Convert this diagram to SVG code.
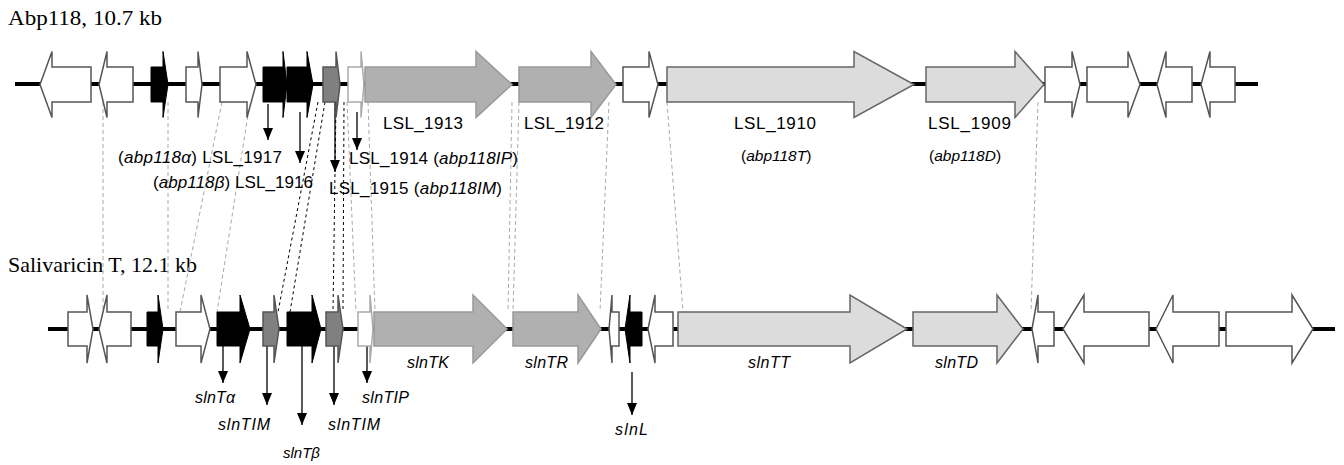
<svg xmlns="http://www.w3.org/2000/svg" width="1344" height="465" viewBox="0 0 1344 465">
<style>
.bb{stroke:#000;stroke-width:4;fill:none}
.w{fill:#fff;stroke:#555;stroke-width:1.5;stroke-linejoin:miter}
.wl{fill:#fff;stroke:#aaa;stroke-width:1.5}
.k{fill:#000;stroke:#000;stroke-width:1}
.dg{fill:#808080;stroke:#555;stroke-width:1.5}
.g{fill:#b0b0b0;stroke:#999;stroke-width:1.5}
.lg{fill:#dcdcdc;stroke:#666;stroke-width:1.5}
.gd{stroke:#aaa;stroke-width:1;stroke-dasharray:4 3;fill:none}
.kd{stroke:#000;stroke-width:1;stroke-dasharray:3 3;fill:none}
.ar{stroke:#000;stroke-width:1.3;fill:none}
.title{font-family:"Liberation Serif",serif;font-size:21px;fill:#000}
.lab{font-family:"Liberation Sans",Arial,sans-serif;font-size:17px;fill:#000}
.it{font-style:italic}
.sl{font-family:"Liberation Sans",Arial,sans-serif;font-size:16px;font-style:italic;fill:#000}
</style>
<defs>
<marker id="ah" viewBox="0 0 12 10" refX="12" refY="5" markerWidth="12" markerHeight="10" markerUnits="userSpaceOnUse" orient="auto"><path d="M0,0 L12,5 L0,10 z" fill="#000"/></marker>
</defs>
<g id="titles">
<text class="title" x="8" y="25" textLength="154" lengthAdjust="spacingAndGlyphs">Abp118, 10.7 kb</text>
<text class="title" x="8" y="272" textLength="189" lengthAdjust="spacingAndGlyphs">Salivaricin T, 12.1 kb</text>
</g>
<g id="connectors">
<line class="gd" x1="103" y1="102" x2="103" y2="312"/>
<line class="gd" x1="168" y1="102" x2="168" y2="312"/>
<line class="gd" x1="222" y1="102" x2="180" y2="312"/>
<line class="gd" x1="250" y1="102" x2="217" y2="312"/>
<line class="gd" x1="347" y1="102" x2="356" y2="312"/>
<line class="gd" x1="368" y1="102" x2="375" y2="312"/>
<line class="gd" x1="512" y1="102" x2="508" y2="312"/>
<line class="gd" x1="519" y1="102" x2="513" y2="312"/>
<line class="gd" x1="609" y1="102" x2="600" y2="312"/>
<line class="gd" x1="667" y1="102" x2="683" y2="312"/>
<line class="gd" x1="1038" y1="102" x2="1031" y2="312"/>
<line class="kd" x1="318" y1="102" x2="278" y2="312"/>
<line class="kd" x1="325" y1="102" x2="290" y2="312"/>
<line class="kd" x1="336" y1="102" x2="333" y2="312"/>
<line class="kd" x1="344" y1="102" x2="343" y2="312"/>
<line class="ar" x1="268" y1="104" x2="268" y2="140" marker-end="url(#ah)"/>
<line class="ar" x1="300" y1="112" x2="300" y2="163" marker-end="url(#ah)"/>
<line class="ar" x1="335" y1="100" x2="335" y2="172" marker-end="url(#ah)"/>
<line class="ar" x1="357" y1="112" x2="357" y2="150" marker-end="url(#ah)"/>
<line class="ar" x1="223" y1="346" x2="223" y2="383" marker-end="url(#ah)"/>
<line class="ar" x1="267" y1="346" x2="267" y2="405" marker-end="url(#ah)"/>
<line class="ar" x1="302" y1="346" x2="302" y2="425" marker-end="url(#ah)"/>
<line class="ar" x1="334" y1="346" x2="334" y2="405" marker-end="url(#ah)"/>
<line class="ar" x1="367" y1="346" x2="367" y2="383" marker-end="url(#ah)"/>
<line class="ar" x1="632" y1="372" x2="632" y2="415" marker-end="url(#ah)"/>
</g>
<g id="backbones">
<line class="bb" x1="15" y1="84" x2="1258" y2="84"/>
<line class="bb" x1="48" y1="329" x2="1335" y2="329"/>
</g>
<g id="top-genes">
<polygon id="t1" class="w" points="40,84.5 52,51.5 52,67 91,67 91,102 52,102 52,117.5"/>
<polygon id="t2" class="w" points="99,84.5 107,51.5 107,67 133,67 133,102 107,102 107,117.5"/>
<polygon id="t3" class="k" points="151,67 163,67 163,51.5 168,84.5 163,117.5 163,102 151,102"/>
<polygon id="t4" class="w" points="186,67 198,67 198,51.5 202,84.5 198,117.5 198,102 186,102"/>
<polygon id="t5" class="w" points="220,67 247,67 247,51.5 256,84.5 247,117.5 247,102 220,102"/>
<polygon id="t6" class="k" points="263,67 283,67 283,51.5 287,84.5 283,117.5 283,102 263,102"/>
<polygon id="t7" class="k" points="287,67 307,67 307,51.5 313,84.5 307,117.5 307,102 287,102"/>
<polygon id="t8" class="dg" points="323,67 336,67 336,51.5 340,84.5 336,117.5 336,102 323,102"/>
<polygon id="t9" class="wl" points="348,67 361,67 361,51.5 364,84.5 361,117.5 361,102 348,102"/>
<polygon id="LSL_1913" class="g" points="365,67 476,67 476,51.5 512,84.5 476,117.5 476,102 365,102"/>
<polygon id="LSL_1912" class="g" points="519,67 591,67 591,51.5 616,84.5 591,117.5 591,102 519,102"/>
<polygon id="t12" class="w" points="623,67 649,67 649,51.5 658,84.5 649,117.5 649,102 623,102"/>
<polygon id="LSL_1910" class="lg" points="667,67 854,67 854,51.5 914,84.5 854,117.5 854,102 667,102"/>
<polygon id="LSL_1909" class="lg" points="926,67 1015,67 1015,51.5 1044,84.5 1015,117.5 1015,102 926,102"/>
<polygon id="t15" class="w" points="1045,67 1072,67 1072,51.5 1080,84.5 1072,117.5 1072,102 1045,102"/>
<polygon id="t16" class="w" points="1087,67 1128,67 1128,51.5 1140,84.5 1128,117.5 1128,102 1087,102"/>
<polygon id="t17" class="w" points="1157,84.5 1166,51.5 1166,67 1192,67 1192,102 1166,102 1166,117.5"/>
<polygon id="t18" class="w" points="1201,84.5 1210,51.5 1210,67 1235,67 1235,102 1210,102 1210,117.5"/>
</g>
<g id="bottom-genes">
<polygon id="b1" class="w" points="68,312 87,312 87,295 93,329 87,363 87,346 68,346"/>
<polygon id="b2" class="w" points="99,329 107,295 107,312 131,312 131,346 107,346 107,363"/>
<polygon id="b3" class="k" points="147,312 158,312 158,295 163,329 158,363 158,346 147,346"/>
<polygon id="b4" class="w" points="176,312 201,312 201,295 210,329 201,363 201,346 176,346"/>
<polygon id="slnTa" class="k" points="217,312 240,312 240,295 250,329 240,363 240,346 217,346"/>
<polygon id="slnTIM1" class="dg" points="263,312 274,312 274,295 279,329 274,363 274,346 263,346"/>
<polygon id="slnTb" class="k" points="287,312 312,312 312,295 321,329 312,363 312,346 287,346"/>
<polygon id="slnTIM2" class="dg" points="326,312 338,312 338,295 343,329 338,363 338,346 326,346"/>
<polygon id="slnTIP" class="wl" points="358,312 370,312 370,295 373,329 370,363 370,346 358,346"/>
<polygon id="slnTK" class="g" points="374,312 473,312 473,295 507,329 473,363 473,346 374,346"/>
<polygon id="slnTR" class="g" points="513,312 578,312 578,295 601,329 578,363 578,346 513,346"/>
<polygon id="b12" class="w" points="609,329 612,295 612,312 619,312 619,346 612,346 612,363"/>
<polygon id="slnL" class="k" points="625,329 630,295 630,312 642,312 642,346 630,346 630,363"/>
<polygon id="b14" class="w" points="648,329 655,295 655,312 673,312 673,346 655,346 655,363"/>
<polygon id="slnTT" class="lg" points="678,312 850,312 850,295 907,329 850,363 850,346 678,346"/>
<polygon id="slnTD" class="lg" points="913,312 997,312 997,295 1023,329 997,363 997,346 913,346"/>
<polygon id="b17" class="w" points="1032,329 1038,295 1038,312 1054,312 1054,346 1038,346 1038,363"/>
<polygon id="b18" class="w" points="1063,329 1084,295 1084,312 1149,312 1149,346 1084,346 1084,363"/>
<polygon id="b19" class="w" points="1156,329 1173,295 1173,312 1219,312 1219,346 1173,346 1173,363"/>
<polygon id="b20" class="w" points="1226,312 1292,312 1292,295 1313,329 1292,363 1292,346 1226,346"/>
</g>
<g id="top-labels">
<text class="lab" x="383" y="129" textLength="80">LSL_1913</text>
<text class="lab" x="524" y="129" textLength="80">LSL_1912</text>
<text class="lab" x="734" y="129" textLength="82">LSL_1910</text>
<text class="lab" x="741" y="161" style="font-size:15.5px">(<tspan class="it">abp118T</tspan>)</text>
<text class="lab" x="928" y="129" textLength="83">LSL_1909</text>
<text class="lab" x="929" y="161" style="font-size:15.5px">(<tspan class="it">abp118D</tspan>)</text>
<text class="lab" x="118" y="163" textLength="164">(<tspan class="it">abp118α</tspan>) LSL_1917</text>
<text class="lab" x="153" y="188" textLength="160">(<tspan class="it">abp118β</tspan>) LSL_1916</text>
<text class="lab" x="349" y="164" textLength="169">LSL_1914 (<tspan class="it">abp118IP</tspan>)</text>
<text class="lab" x="329" y="194" textLength="173">LSL_1915 (<tspan class="it">abp118IM</tspan>)</text>
</g>
<g id="bottom-labels">
<text class="sl" x="407" y="368" textLength="42">slnTK</text>
<text class="sl" x="525" y="368" textLength="43">slnTR</text>
<text class="sl" x="748" y="368" textLength="42">slnTT</text>
<text class="sl" x="935" y="368" textLength="43">slnTD</text>
<text class="sl" x="195" y="403" textLength="40">slnTα</text>
<text class="sl" x="218" y="430" textLength="52">slnTIM</text>
<text class="sl" x="283" y="458" style="font-size:15px">slnTβ</text>
<text class="sl" x="328" y="430" textLength="52">slnTIM</text>
<text class="sl" x="362" y="403" textLength="47">slnTIP</text>
<text class="sl" x="615" y="435" textLength="33">slnL</text>
</g>
</svg>
